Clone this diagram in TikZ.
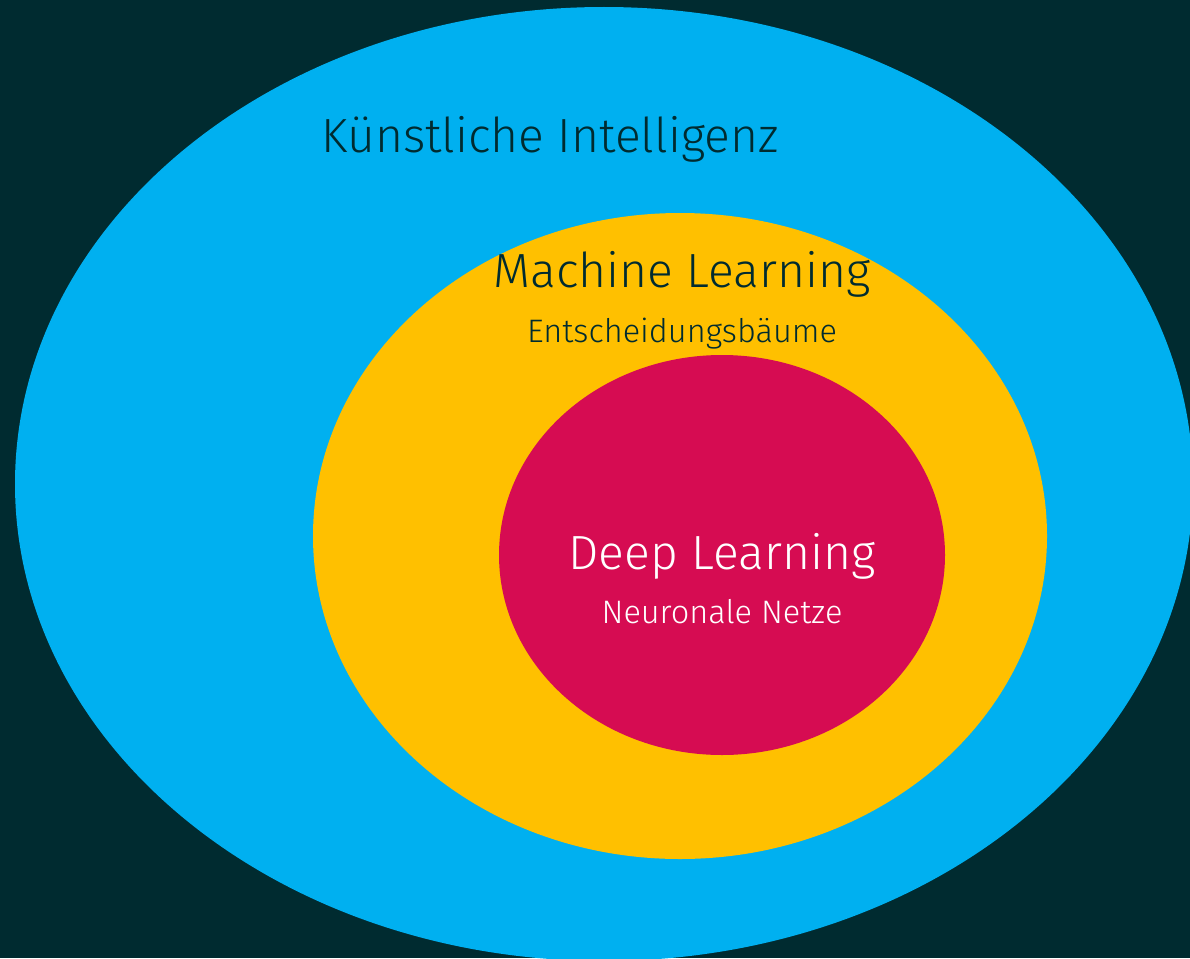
\documentclass[tikz,border=0pt]{standalone}
\usepackage{fontspec}
\setmainfont{Fira Sans}[UprightFont=* Light]
\usepackage{tikz}

\definecolor{bgdark}{RGB}{0,43,48}
\definecolor{kiblue}{RGB}{0,176,240}
\definecolor{mlyellow}{RGB}{255,192,0}
\definecolor{dlred}{RGB}{214,12,82}

\tikzset{
  bigtitle/.style={anchor=base,inner sep=0pt,font=\fontsize{48}{52}\selectfont},
  subtitle/.style={anchor=base,inner sep=0pt,font=\fontsize{32.5}{36}\selectfont},
}

\begin{document}
\begin{tikzpicture}[x=1pt,y=-1pt]
    \useasboundingbox (0,0) rectangle (1190,958);
    \clip (0,0) rectangle (1190,958);
    \fill [bgdark] (0,0) rectangle (1190,958);
    % nested ellipses
    \fill [kiblue] (604,484) ellipse [x radius=589pt, y radius=477pt];
    \fill [mlyellow] (680,536) ellipse [x radius=367pt, y radius=323pt];
    \fill [dlred] (722,555) ellipse [x radius=223pt, y radius=200pt];
    % labels
    \node (ki) at (550,152) [bigtitle,text=bgdark] {Künstliche Intelligenz};
    \node (ml) at (682,287) [bigtitle,text=bgdark] {Machine Learning};
    \node (mlsub) at (682,342) [subtitle,text=bgdark] {Entscheidungsbäume};
    \node (dl) at (722,569) [bigtitle,text=white] {Deep Learning};
    \node (dlsub) at (722,623) [subtitle,text=white] {Neuronale Netze};
\end{tikzpicture}
\end{document}
